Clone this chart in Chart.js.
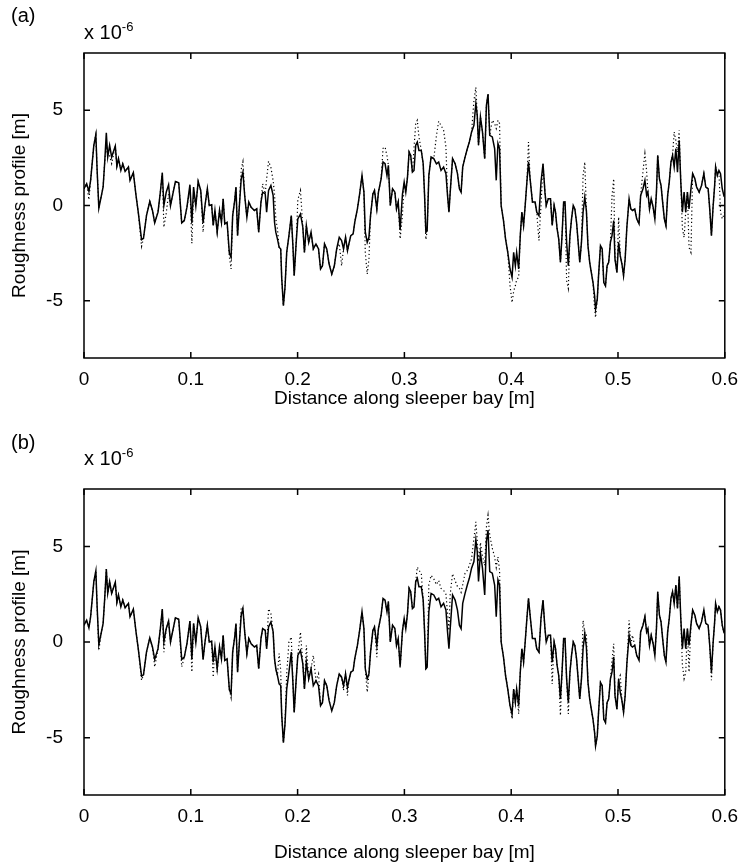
<!DOCTYPE html>
<html>
<head>
<meta charset="utf-8">
<script src="https://cdn.jsdelivr.net/npm/chart.js@4.4.1/dist/chart.umd.min.js"></script>
<style>
body { margin:0; background:#fff; width:748px; height:865px; position:relative; overflow:hidden; font-family:"Liberation Sans", Arial, sans-serif; }
canvas { position:absolute; left:0; }
.lbl { position:absolute; font-size:20px; color:#000; line-height:1; white-space:nowrap; }
.lbl sup { font-size:13px; vertical-align:8px; }
</style>
</head>
<body>
<canvas id="chartA" width="748" height="420" style="top:0"></canvas>
<canvas id="chartB" width="748" height="429" style="top:436px"></canvas>
<div class="lbl" style="left:11px;top:5px">(a)</div>
<div class="lbl" style="left:84px;top:20px">x 10<sup>-6</sup></div>
<div class="lbl" style="left:11px;top:432px">(b)</div>
<div class="lbl" style="left:84px;top:446px">x 10<sup>-6</sup></div>
<script>
// distance along the bay [m]
const distance = [
0.000,0.0025,0.0046,0.0062,0.0092,0.0111,0.0123,0.0139,0.016,0.0179,
0.0194,0.0209,0.0222,0.024,0.0259,0.0293,0.0308,0.0323,0.0345,0.0363,
0.0385,0.0416,0.0431,0.0462,0.0487,0.0508,0.0539,0.0557,0.0585,0.0616,
0.0641,0.0662,0.0693,0.0715,0.0733,0.0748,0.077,0.0792,0.081,0.0832,
0.0856,0.0887,0.0915,0.0939,0.0964,0.0992,0.101,0.1026,0.1047,0.1069,
0.1093,0.1115,0.1133,0.1155,0.1173,0.1195,0.121,0.1226,0.1247,0.1269,
0.1287,0.1303,0.1318,0.134,0.1361,0.1377,0.1392,0.1411,0.1423,0.1438,
0.1454,0.1472,0.1488,0.1505,0.1525,0.1543,0.1565,0.1596,0.1617,0.1636,
0.1657,0.1673,0.1697,0.171,0.1728,0.175,0.1771,0.1784,0.1796,0.1811,
0.1827,0.1842,0.1851,0.1867,0.1882,0.1898,0.1919,0.1941,0.1956,0.1968,
0.1987,0.2002,0.2027,0.2049,0.2064,0.2082,0.2104,0.2126,0.2147,0.2172,
0.2196,0.2215,0.2233,0.2252,0.2273,0.2295,0.232,0.2344,0.2366,0.239,
0.2412,0.243,0.2449,0.2467,0.248,0.2498,0.252,0.2535,0.256,0.2581,
0.2603,0.2621,0.2634,0.2652,0.2668,0.2683,0.2705,0.272,0.2742,0.2757,
0.2782,0.28,0.2819,0.2837,0.285,0.2868,0.2889,0.2911,0.2926,0.2942,
0.296,0.2982,0.2998,0.3013,0.3029,0.3044,0.3059,0.3075,0.309,0.3106,
0.3121,0.3136,0.3158,0.3176,0.3189,0.3201,0.3213,0.3229,0.325,0.3275,
0.33,0.3321,0.3343,0.3367,0.3389,0.3404,0.3417,0.3429,0.3451,0.3475,
0.3497,0.3515,0.3531,0.3546,0.3568,0.3589,0.3608,0.3629,0.3651,0.3669,
0.3682,0.3694,0.3712,0.3731,0.3752,0.3768,0.3783,0.3799,0.3823,0.3845,
0.386,0.3876,0.3891,0.3906,0.3928,0.3947,0.3968,0.3989,0.4008,0.4023,
0.4039,0.4051,0.407,0.4085,0.41,0.4116,0.4131,0.4147,0.4162,0.4177,
0.4199,0.4224,0.4239,0.426,0.4279,0.4298,0.4316,0.4328,0.4347,0.4368,
0.4384,0.4402,0.4415,0.443,0.4445,0.4461,0.4476,0.4491,0.4504,0.4519,
0.4535,0.455,0.4565,0.4581,0.4596,0.4612,0.4627,0.4642,0.4658,0.4673,
0.4689,0.4704,0.4719,0.4735,0.475,0.4766,0.4781,0.479,0.4806,0.4818,
0.4836,0.4852,0.4867,0.4883,0.4898,0.4913,0.4929,0.4944,0.496,0.4972,
0.499,0.5006,0.5021,0.5037,0.5052,0.5067,0.5083,0.5104,0.512,0.5135,
0.5157,0.5175,0.5197,0.5212,0.5234,0.5252,0.5268,0.528,0.5295,0.5311,
0.5329,0.5345,0.536,0.5372,0.5388,0.5403,0.5418,0.5434,0.5449,0.5465,
0.548,0.5496,0.5511,0.5526,0.5542,0.5557,0.5573,0.5588,0.5603,0.5619,
0.5634,0.565,0.5665,0.5683,0.5699,0.572,0.5736,0.576,0.5782,0.5804,
0.5822,0.5844,0.5859,0.5875,0.589,0.5905,0.5914,0.593,0.5945,0.596,
0.5976,0.5991,0.6
];

// measured roughness (solid, same in both plots), x 1e-6 m
const measured = [
0.88,1.14,0.74,1.32,3.16,3.72,1.84,-0.14,0.44,0.97,
2.28,3.81,2.54,3.16,2.54,3.12,2.07,2.46,1.84,2.19,
1.79,2.02,1.32,1.72,0.53,-0.35,-1.79,-1.72,-0.53,0.21,
-0.26,-0.91,-0.35,0.70,1.72,0.00,0.70,1.09,0.00,0.61,
1.26,1.19,-0.91,-0.79,-0.09,1.09,-0.91,0.97,-0.03,1.26,
0.79,-0.91,0.00,0.88,0.00,0.04,-1.05,-0.26,-1.40,-0.26,
-0.88,0.35,-0.96,-0.88,-2.49,-2.72,-0.53,0.26,0.97,-1.58,
-0.09,1.40,1.75,0.50,-0.61,0.18,-0.09,-0.26,-0.18,-1.40,
0.18,0.70,0.61,-0.35,0.79,1.05,0.53,-0.88,-1.40,-1.75,
-2.19,-2.28,-3.77,-5.26,-4.30,-2.46,-1.58,-0.53,-2.10,-3.68,
-1.93,-0.70,-0.44,-1.14,-2.46,-1.05,-1.93,-1.40,-2.28,-2.02,
-2.28,-3.33,-3.16,-2.02,-2.28,-3.07,-3.60,-3.16,-2.28,-1.67,
-1.84,-2.28,-1.67,-2.37,-2.02,-1.58,-1.49,-0.88,-0.18,0.61,
1.58,0.70,-1.40,-1.93,-1.67,-0.53,0.61,0.79,-0.18,0.70,
1.40,2.28,2.19,1.58,2.11,0.00,0.88,0.70,-0.18,0.18,
-1.28,0.60,1.23,0.70,1.49,2.81,2.63,1.75,1.84,3.16,
3.33,2.89,2.89,2.19,0.53,-1.40,-1.32,1.58,2.54,2.46,
2.19,2.28,1.84,2.02,1.67,0.53,-0.35,0.70,2.46,2.19,
1.67,0.88,0.70,2.02,2.54,2.98,3.33,3.86,4.21,5.35,
4.74,3.16,4.65,3.86,2.46,5.26,5.85,3.68,3.60,2.98,
1.32,3.25,2.98,0.00,-0.79,-1.75,-2.46,-3.33,-3.77,-2.46,
-3.16,-2.46,-3.33,-1.58,-0.35,-1.05,0.00,1.23,2.28,1.40,
0.18,0.18,-0.35,-0.53,1.23,2.19,0.70,0.00,0.35,0.35,
-1.05,0.00,-0.35,-1.23,-1.75,-2.98,-1.58,0.18,0.18,-1.93,
-3.16,-1.58,-0.70,0.00,-0.18,-0.88,-1.93,-2.98,-1.93,-0.35,
0.44,-0.26,-2.11,-2.98,-3.51,-4.04,-4.74,-5.44,-4.91,-3.68,
-2.11,-2.28,-4.04,-4.21,-3.16,-2.98,-1.93,-1.58,-0.79,-2.81,
-3.51,-1.93,-2.63,-3.07,-3.68,-2.81,-1.14,0.35,-0.18,-0.26,
-0.18,-0.70,-0.96,0.53,0.88,1.32,0.53,0.70,-0.18,0.35,
-0.09,-0.70,0.70,2.63,1.40,1.05,0.18,-0.70,-1.05,0.53,
1.23,2.28,2.63,2.02,2.98,1.75,3.42,1.23,-0.35,0.70,
-0.35,0.70,-0.18,0.88,1.67,1.40,0.97,0.70,1.05,1.67,
0.97,0.88,-0.18,-1.58,-0.09,1.05,2.02,1.58,1.84,1.67,
0.88,0.53,0.60
];

// dotted curve, plot (a)
const predictedA = [
0.88,1.14,0.30,1.32,3.16,3.72,1.84,-0.14,0.44,0.97,
2.28,3.20,2.54,2.60,2.20,3.12,2.07,2.46,1.84,2.19,
1.79,2.02,1.32,1.72,0.53,-0.35,-2.14,-1.72,-0.53,0.21,
-0.26,-0.91,-0.35,0.70,1.72,-1.14,-0.40,0.60,0.00,0.61,
1.26,1.19,-0.91,-0.79,-0.09,0.90,-1.98,0.50,-0.03,1.26,
0.79,-1.40,0.00,0.88,0.00,0.04,-1.05,-0.26,-1.40,-0.26,
-0.88,0.35,-0.96,-0.88,-2.70,-3.33,-0.53,0.26,0.97,-1.58,
-0.09,1.90,2.30,0.50,-0.61,0.18,-0.09,-0.26,-0.18,-1.40,
0.18,1.14,0.61,1.40,2.32,2.00,1.30,0.60,-0.70,-1.20,
-2.19,-2.28,-3.77,-5.26,-4.30,-2.46,-1.58,-0.53,-2.10,-3.68,
-1.93,0.30,0.79,-1.14,-2.46,-1.05,-1.93,-1.40,-2.28,-2.02,
-2.28,-3.33,-3.16,-2.02,-2.28,-3.07,-3.60,-3.16,-2.28,-2.00,
-3.16,-2.28,-1.67,-2.37,-2.02,-1.58,-1.49,-0.88,-0.18,0.61,
1.58,0.70,-2.50,-3.60,-2.80,-0.53,0.61,0.79,-0.18,0.70,
1.40,3.00,3.07,2.60,2.11,0.00,0.88,0.70,-0.18,0.18,
-1.75,-0.50,1.23,0.70,1.49,2.81,2.63,1.75,3.00,4.30,
4.47,3.60,2.89,2.19,0.53,-1.79,-1.32,1.58,2.54,2.46,
3.65,4.42,4.20,3.95,3.07,0.53,-0.35,0.70,2.46,2.19,
1.67,0.88,0.70,2.02,2.54,2.98,3.33,3.86,5.50,6.20,
4.74,3.16,4.65,3.86,2.46,5.26,5.85,3.68,4.47,4.30,
4.04,4.47,4.30,0.00,-0.79,-1.75,-2.46,-4.20,-5.09,-4.50,
-4.21,-3.90,-3.77,-1.58,-0.35,-1.05,0.00,1.23,3.33,1.40,
0.18,0.18,-0.35,-1.84,0.00,2.19,0.70,0.00,0.35,0.35,
-1.05,0.00,-0.35,-1.23,-1.75,-2.98,-1.58,0.18,0.18,-3.95,
-4.35,-1.58,-0.70,0.00,-0.18,-0.88,-1.93,-2.98,-1.93,1.58,
2.28,-0.26,-2.11,-2.98,-3.51,-4.04,-5.40,-5.88,-4.91,-3.68,
-2.11,-2.28,-4.04,-4.21,-3.16,-2.98,-1.93,0.50,1.40,-2.81,
-3.51,-0.61,-2.63,-3.07,-3.68,-2.81,-1.14,0.35,-0.18,-0.26,
-0.18,-0.70,-0.96,0.53,1.80,2.72,1.80,0.70,-0.18,0.35,
-0.09,-0.70,0.70,2.63,1.40,1.05,0.18,-0.70,-1.05,0.53,
1.23,2.28,2.63,3.86,3.40,2.80,3.95,1.23,-1.20,-1.67,
-0.35,0.70,-2.20,-2.46,1.67,1.40,0.97,0.70,1.05,1.67,
0.97,0.88,-0.18,-1.58,-0.09,1.05,2.02,1.58,1.84,-0.35,
-0.70,-0.50,-0.30
];

// dotted curve, plot (b)
const predictedB = [
0.88,1.14,0.74,1.32,3.16,3.72,1.84,-0.44,0.44,0.97,
2.28,3.81,2.54,3.16,2.54,3.12,2.07,2.46,1.84,2.19,
1.79,2.02,1.32,1.72,0.53,-0.35,-2.00,-1.72,-0.53,0.21,
-0.26,-1.30,-0.35,0.70,1.72,-0.53,0.70,1.09,0.00,0.61,
1.26,1.19,-1.30,-0.79,-0.09,1.09,-1.57,0.97,-0.03,1.26,
0.79,-0.91,0.00,0.88,0.00,0.04,-1.84,-0.26,-1.60,-0.26,
-0.88,0.35,-0.96,-0.88,-2.49,-2.90,-0.53,0.26,0.97,-1.58,
-0.09,1.83,1.75,0.50,-0.61,0.18,-0.09,-0.26,-0.18,-1.40,
0.18,0.70,0.61,-0.35,1.74,1.48,0.53,-0.88,-1.40,-1.75,
-0.60,-1.50,-3.77,-5.26,-4.30,-1.66,0.00,0.26,-2.10,-3.68,
-1.93,-0.70,0.52,-1.14,-2.46,-0.18,-1.93,-1.40,-0.70,-2.02,
-1.66,-3.33,-3.16,-2.02,-2.28,-3.07,-3.60,-3.16,-2.28,-1.67,
-1.84,-2.53,-1.67,-2.80,-2.02,-1.58,-1.49,-0.88,-0.18,0.61,
1.58,0.70,-1.40,-2.62,-1.67,-0.53,0.61,0.79,-0.79,0.70,
1.40,2.28,2.19,1.58,2.11,0.00,0.88,0.70,-0.18,0.18,
-1.40,0.60,1.23,0.70,1.49,2.81,2.63,1.75,1.84,3.16,
3.92,3.75,3.60,2.19,0.53,-1.40,-1.32,3.00,3.49,3.30,
3.00,3.22,2.80,2.70,2.50,1.50,0.60,2.50,3.57,3.20,
2.90,2.80,2.60,3.00,3.60,3.75,4.00,4.36,5.40,6.28,
5.30,4.20,5.20,4.50,4.00,6.00,6.63,5.60,4.90,4.45,
3.90,4.45,3.75,0.00,-0.79,-1.75,-2.46,-3.33,-4.02,-2.46,
-3.16,-2.46,-3.76,-1.58,-0.35,-1.05,0.00,1.23,2.28,1.40,
0.18,0.18,-0.35,-0.53,1.23,2.19,0.70,0.00,0.35,0.35,
-2.20,0.00,-0.35,-1.23,-1.75,-3.84,-1.58,0.18,0.18,-1.93,
-3.76,-1.58,-0.70,0.00,-0.18,-0.88,-1.93,-2.98,-1.93,1.13,
0.44,0.43,-2.11,-2.98,-3.51,-4.04,-4.74,-5.44,-4.91,-3.68,
-2.11,-2.28,-4.04,-4.21,-3.16,-2.98,-1.93,-0.96,-0.09,-2.81,
-3.51,-1.93,-1.75,-3.07,-3.68,-2.81,-1.14,1.13,-0.18,0.35,
-0.18,-0.70,-0.96,0.53,0.88,1.32,0.53,0.70,-0.18,0.35,
-0.09,-0.70,0.70,2.63,1.40,1.05,0.18,-0.70,-1.05,0.53,
1.23,2.28,2.63,2.02,2.98,1.75,3.42,1.23,-1.20,-1.92,
-1.60,0.70,-1.57,0.88,1.67,1.40,0.97,0.70,1.05,1.67,
0.97,0.88,-0.18,-2.00,-0.09,1.05,2.02,1.58,1.84,1.67,
0.88,0.53,0.60
];

const xTicks = [0, 0.1, 0.2, 0.3, 0.4, 0.5, 0.6];
const xTickLabels = ["0", "0.1", "0.2", "0.3", "0.4", "0.5", "0.6"];
const yTicks = [-5, 0, 5];
const yTickLabels = ["-5", "0", "5"];

Chart.defaults.font.family = '"Liberation Sans", Arial, sans-serif';
Chart.defaults.font.size = 19;
Chart.defaults.color = "#000";

// box round the plot + inward tick marks on all four sides
const boxPlugin = {
  id: "box",
  afterDraw(chart) {
    var ctx = chart.ctx, a = chart.chartArea;
    var sx = chart.scales.x, sy = chart.scales.y;
    ctx.save();
    ctx.strokeStyle = "#000";
    ctx.lineWidth = 1.5;
    ctx.strokeRect(a.left, a.top, a.right - a.left, a.bottom - a.top);
    ctx.beginPath();
    xTicks.forEach(v => {
      var px = sx.getPixelForValue(v);
      ctx.moveTo(px, a.bottom); ctx.lineTo(px, a.bottom - 6);
      ctx.moveTo(px, a.top); ctx.lineTo(px, a.top + 6);
    });
    yTicks.forEach(v => {
      var py = sy.getPixelForValue(v);
      ctx.moveTo(a.left, py); ctx.lineTo(a.left + 6, py);
      ctx.moveTo(a.right, py); ctx.lineTo(a.right - 6, py);
    });
    ctx.stroke();
    ctx.restore();
  }
};

function makeChart(id, dotted, xAxisHeight, titlePadBottom) {
  return new Chart(document.getElementById(id), {
    type: "line",
    data: {
      datasets: [{
        label: "predicted",
        data: distance.map((d, i) => ({x: d, y: dotted[i]})),
        borderColor: "#000",
        borderWidth: 1.2,
        borderDash: [1.2, 2.6]
      }, {
        label: "measured",
        data: distance.map((d, i) => ({x: d, y: measured[i]})),
        borderColor: "#000",
        borderWidth: 1.5
      }]
    },
    options: {
      responsive: false,
      animation: false,
      layout: {padding: {left: 0, right: 15, top: 53, bottom: 0}},
      elements: {point: {radius: 0}, line: {tension: 0}},
      plugins: {legend: {display: false}, tooltip: {enabled: false}},
      scales: {
        x: {
          type: "linear", min: 0, max: 0.6,
          afterBuildTicks: s => { s.ticks = xTicks.map(v => ({value: v})); },
          afterFit: s => { s.height = xAxisHeight; },
          ticks: {autoSkip: false, maxRotation: 0, padding: 10,
                  callback: (v, i) => xTickLabels[i]},
          grid: {display: false, drawTicks: false},
          border: {display: false},
          title: {display: true, text: "Distance along sleeper bay [m]",
                  padding: {top: 0, bottom: titlePadBottom}}
        },
        y: {
          type: "linear", min: -8, max: 8,
          afterBuildTicks: s => { s.ticks = yTicks.map(v => ({value: v})); },
          afterFit: s => { s.width = 84; },
          ticks: {padding: 21, callback: (v, i) => yTickLabels[i]},
          grid: {display: false, drawTicks: false},
          border: {display: false},
          title: {display: true, text: "Roughness profile [m]",
                  padding: {top: 8, bottom: 0}}
        }
      }
    },
    plugins: [boxPlugin]
  });
}

makeChart("chartA", predictedA, 62, 10);
makeChart("chartB", predictedB, 70, 1);
</script>
</body>
</html>
